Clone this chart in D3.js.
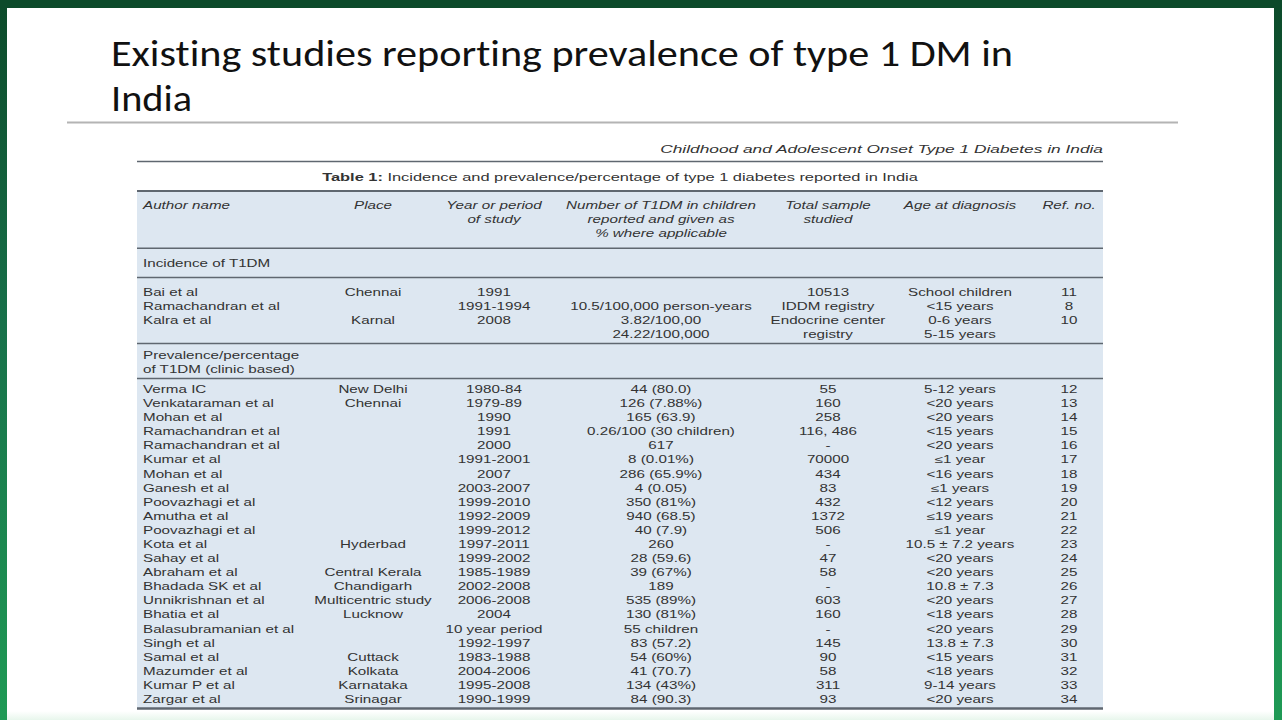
<!DOCTYPE html>
<html><head><meta charset="utf-8">
<script src="https://cdn.jsdelivr.net/npm/d3@7"></script>
<style>html,body{margin:0;padding:0;background:#fff;overflow:hidden}</style>
</head><body>
<svg id="c" width="1282" height="720"></svg>
<script>
// ---------- DATA ----------
const slideTitle = ["Existing studies reporting prevalence of type 1 DM in", "India"];
const runningHead = "Childhood and Adolescent Onset Type 1 Diabetes in India";
const tableCaptionBold = "Table 1:";
const tableCaption = " Incidence and prevalence/percentage of type 1 diabetes reported in India";
const columns = ["author", "place", "year", "number", "sample", "age", "ref"];
const headers = [
  ["Author name"], ["Place"], ["Year or period", "of study"],
  ["Number of T1DM in children", "reported and given as", "% where applicable"],
  ["Total sample", "studied"], ["Age at diagnosis"], ["Ref. no."]
];
const sectionIncidence = ["Incidence of T1DM"];
const sectionPrevalence = ["Prevalence/percentage", "of T1DM (clinic based)"];

const incAuthors = ["Bai et al", "Ramachandran et al", "Kalra et al"];
const incPlaces  = ["Chennai", "", "Karnal"];
const incYears   = ["1991", "1991-1994", "2008"];
const incNumbers = [[""], ["10.5/100,000 person-years"], ["3.82/100,00", "24.22/100,000"]];
const incSamples = [["10513"], ["IDDM registry"], ["Endocrine center", "registry"]];
const incAges    = [["School children"], ["<15 years"], ["0-6 years", "5-15 years"]];
const incRefs    = ["11", "8", "10"];

const prevAuthors = ["Verma IC", "Venkataraman et al", "Mohan et al", "Ramachandran et al", "Ramachandran et al",
  "Kumar et al", "Mohan et al", "Ganesh et al", "Poovazhagi et al", "Amutha et al", "Poovazhagi et al", "Kota et al",
  "Sahay et al", "Abraham et al", "Bhadada SK et al", "Unnikrishnan et al", "Bhatia et al", "Balasubramanian et al",
  "Singh et al", "Samal et al", "Mazumder et al", "Kumar P et al", "Zargar et al"];
const prevPlaces = ["New Delhi", "Chennai", "", "", "", "", "", "", "", "", "", "Hyderbad",
  "", "Central Kerala", "Chandigarh", "Multicentric study", "Lucknow", "", "", "Cuttack", "Kolkata", "Karnataka", "Srinagar"];
const prevYears = ["1980-84", "1979-89", "1990", "1991", "2000", "1991-2001", "2007", "2003-2007", "1999-2010",
  "1992-2009", "1999-2012", "1997-2011", "1999-2002", "1985-1989", "2002-2008", "2006-2008", "2004",
  "10 year period", "1992-1997", "1983-1988", "2004-2006", "1995-2008", "1990-1999"];
const prevNumbers = ["44 (80.0)", "126 (7.88%)", "165 (63.9)", "0.26/100 (30 children)", "617", "8 (0.01%)",
  "286 (65.9%)", "4 (0.05)", "350 (81%)", "940 (68.5)", "40 (7.9)", "260", "28 (59.6)", "39 (67%)", "189",
  "535 (89%)", "130 (81%)", "55 children", "83 (57.2)", "54 (60%)", "41 (70.7)", "134 (43%)", "84 (90.3)"];
const prevSamples = ["55", "160", "258", "116, 486", "-", "70000", "434", "83", "432", "1372", "506", "-",
  "47", "58", "-", "603", "160", "-", "145", "90", "58", "311", "93"];
const prevAges = ["5-12 years", "<20 years", "<20 years", "<15 years", "<20 years", "\u22641 year", "<16 years",
  "\u22641 years", "<12 years", "\u226419 years", "\u22641 year", "10.5 \u00b1 7.2 years", "<20 years", "<20 years",
  "10.8 \u00b1 7.3", "<20 years", "<18 years", "<20 years", "13.8 \u00b1 7.3", "<15 years", "<18 years",
  "9-14 years", "<20 years"];
const prevRefs = ["12", "13", "14", "15", "16", "17", "18", "19", "20", "21", "22", "23", "24", "25", "26",
  "27", "28", "29", "30", "31", "32", "33", "34"];

// ---------- LAYOUT ----------
const W = 1282, H = 720;
const SX = 1.52;          // horizontal stretch of the embedded table image
const FS = 10;
const FONT = "'Liberation Sans', Arial, sans-serif";
const TXT = "#333333";

const svg = d3.select("#c");
const defs = svg.append("defs");
const gl = defs.append("linearGradient").attr("id", "sideG").attr("x1", 0).attr("y1", 0).attr("x2", 0).attr("y2", 1);
gl.append("stop").attr("offset", "0%").attr("stop-color", "#0c4a2a");
gl.append("stop").attr("offset", "45%").attr("stop-color", "#18714a");
gl.append("stop").attr("offset", "100%").attr("stop-color", "#1f9a55");
const gb = defs.append("linearGradient").attr("id", "botG").attr("x1", 0).attr("y1", 0).attr("x2", 0).attr("y2", 1);
gb.append("stop").attr("offset", "0%").attr("stop-color", "#ffffff");
gb.append("stop").attr("offset", "100%").attr("stop-color", "#e8f6ec");

svg.append("rect").attr("width", W).attr("height", H).attr("fill", "#fff");
svg.append("rect").attr("x", 0).attr("y", 711).attr("width", W).attr("height", 9).attr("fill", "url(#botG)");
svg.append("rect").attr("x", 0).attr("y", 0).attr("width", 7).attr("height", H).attr("fill", "url(#sideG)");
svg.append("rect").attr("x", 1274).attr("y", 0).attr("width", 8).attr("height", H).attr("fill", "url(#sideG)");
svg.append("rect").attr("x", 0).attr("y", 0).attr("width", W).attr("height", 8).attr("fill", "#0c4a2a");

// slide title
const titleY = d3.scaleLinear().domain([0, 1]).range([66, 111]);
svg.selectAll("text.title").data(slideTitle).join("text")
  .attr("class", "title")
  .attr("x", 111).attr("y", (d, i) => titleY(i))
  .attr("font-family", "Carlito, Calibri, Lato, 'Open Sans', sans-serif")
  .attr("font-size", 37).attr("fill", "#111")
  .style("font-variant-ligatures", "none")
  .attr("textLength", (d, i) => i === 0 ? 902 : 81)
  .attr("lengthAdjust", "spacingAndGlyphs")
  .text(d => d);
svg.append("line").attr("x1", 67).attr("x2", 1178).attr("y1", 122.5).attr("y2", 122.5)
  .attr("stroke", "#b4b4b4").attr("stroke-width", 2);

// table
const tL = 137, tR = 1103;
const xCol = d3.scaleOrdinal().domain(columns).range([143, 373, 494, 661, 828, 960, 1069]);
const anchorOf = c => c === "author" ? "start" : "middle";

svg.append("rect").attr("x", tL).attr("y", 191).attr("width", tR - tL).attr("height", 708 - 191)
  .attr("fill", "#dde7f1");

const rules = [{y: 161.5, w: 1.6}, {y: 191, w: 2}, {y: 248.3, w: 1.5}, {y: 277.5, w: 1.5},
  {y: 343.5, w: 1.5}, {y: 378.5, w: 1.5}, {y: 708.5, w: 2.4}];
svg.selectAll("line.rule").data(rules).join("line").attr("class", "rule")
  .attr("x1", tL).attr("x2", tR).attr("y1", d => d.y).attr("y2", d => d.y)
  .attr("stroke", "#5f6770").attr("stroke-width", d => d.w);

function txt(str, x, y, anchor, opts = {}) {
  const t = svg.append("text")
    .attr("transform", `translate(${x},${y}) scale(${SX},1)`)
    .attr("text-anchor", anchor)
    .attr("font-family", FONT).attr("font-size", opts.fs || FS)
    .attr("font-style", opts.italic ? "italic" : "normal")
    .attr("font-weight", opts.bold ? "bold" : "normal")
    .attr("fill", TXT);
  if (Array.isArray(str)) {
    str.forEach(s => t.append("tspan").attr("font-weight", s.bold ? "bold" : "normal").text(s.t));
  } else t.text(str);
  return t;
}

txt(runningHead, tR, 152.5, "end", {italic: true, fs: 11.4});
txt([{t: tableCaptionBold, bold: true}, {t: tableCaption}], 620, 181, "middle", {fs: 10.8});

// header
const yHead = d3.scaleLinear().domain([0, 2]).range([209, 237]);
columns.forEach((c, ci) => headers[ci].forEach((h, li) => txt(h, xCol(c), yHead(li), anchorOf(c), {italic: true})));

// section labels
const ySec1 = d3.scaleLinear().domain([0, 1]).range([267, 281]);
sectionIncidence.forEach((s, i) => txt(s, xCol("author"), ySec1(i), "start"));
const ySec2 = d3.scaleLinear().domain([0, 1]).range([359, 373]);
sectionPrevalence.forEach((s, i) => txt(s, xCol("author"), ySec2(i), "start"));

// incidence rows
const yInc = d3.scaleLinear().domain([0, 3]).range([296, 338]);
const incCols = {author: incAuthors, place: incPlaces, year: incYears, number: incNumbers,
  sample: incSamples, age: incAges, ref: incRefs};
columns.forEach(c => incCols[c].forEach((v, i) => {
  const lines = Array.isArray(v) ? v : [v];
  lines.forEach((s, j) => { if (s) txt(s, xCol(c), yInc(i + j), anchorOf(c)); });
}));

// prevalence rows
const yPrev = d3.scaleLinear().domain([0, prevAuthors.length - 1]).range([393, 703]);
const prevCols = {author: prevAuthors, place: prevPlaces, year: prevYears, number: prevNumbers,
  sample: prevSamples, age: prevAges, ref: prevRefs};
columns.forEach(c => prevCols[c].forEach((s, i) => { if (s) txt(s, xCol(c), yPrev(i), anchorOf(c)); }));
</script>
</body></html>
